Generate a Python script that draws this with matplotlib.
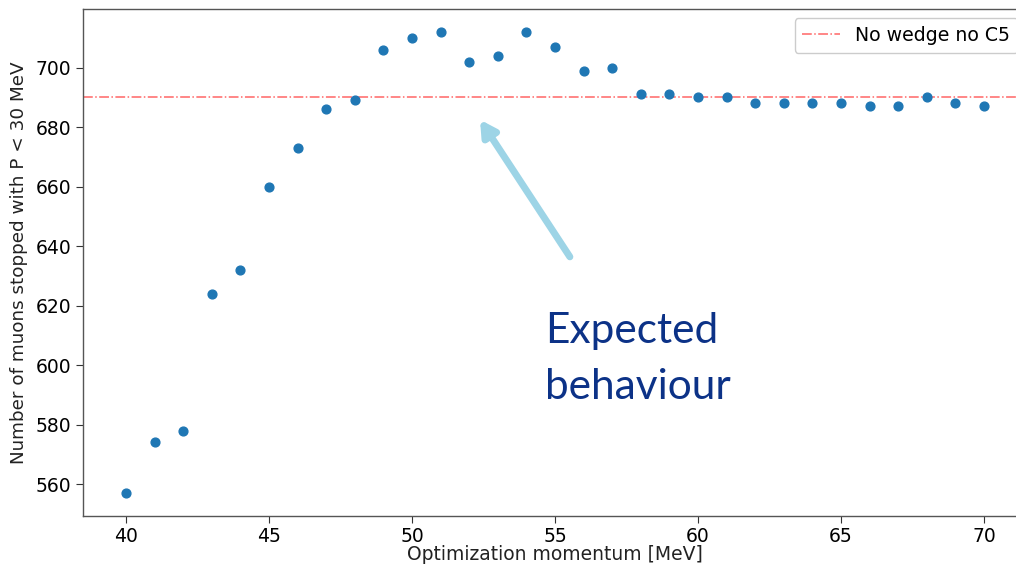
import matplotlib
matplotlib.use("Agg")
import matplotlib.pyplot as plt
from matplotlib import patheffects as pe

# Optimization momentum scan [MeV] and stopped-muon counts
momentum = [40, 41, 42, 43, 44, 45, 46, 47, 48, 49, 50, 51, 52, 53, 54, 55,
            56, 57, 58, 59, 60, 61, 62, 63, 64, 65, 66, 67, 68, 69, 70]
stopped = [557, 574, 578, 624, 632, 660, 673, 686, 689, 706, 710, 712, 702, 704, 712, 707,
           699, 700, 691, 691, 690, 690, 688, 688, 688, 688, 687, 687, 690, 688, 687]
reference_level = 690
reference_label = "No wedge no C5"
x_ticks = [40, 45, 50, 55, 60, 65, 70]
y_ticks = [560, 580, 600, 620, 640, 660, 680, 700]

W, H = 1016, 565
fig = plt.figure(figsize=(W / 100, H / 100), dpi=100)
# axes extend slightly past the right edge of the canvas
ax = fig.add_axes([83 / W, (H - 516) / H, (1027 - 83) / W, (516 - 9) / H])

ax.scatter(momentum, stopped, s=40, color="#1f77b4", zorder=3)
ax.axhline(reference_level, color="red", alpha=0.6, linestyle="-.", lw=1.1,
           label=reference_label)

ax.set_xlim(38.5, 71.5)
ax.set_ylim(549.25, 719.75)
ax.set_xticks(x_ticks)
ax.set_yticks(y_ticks)
ax.tick_params(labelsize=13.5, length=5, color="#333333")
ax.tick_params(axis="x", pad=3)
for s in ax.spines.values():
    s.set_color("#555555")
    s.set_linewidth(1.0)

ax.set_xlabel("Optimization momentum [MeV]", fontsize=13.5, labelpad=-1, color="#222222")
ax.set_ylabel("Number of muons stopped with P < 30 MeV", fontsize=13.2, labelpad=5,
              color="#222222")

leg = ax.legend(loc="upper right", fontsize=13.6, framealpha=1, borderaxespad=0.5)
leg.get_frame().set_edgecolor("#cccccc")

# annotation arrow and note
ax.annotate("", xy=(52.38, 682.5), xytext=(55.52, 636.4),
            arrowprops=dict(arrowstyle="-|>,head_length=0.9,head_width=0.5",
                            color="#9dd4e6", lw=5, shrinkA=0, shrinkB=0,
                            path_effects=[pe.SimplePatchShadow(offset=(1.5, -1.5),
                                                               alpha=0.25),
                                          pe.Normal()]),
            zorder=4)
ax.text(54.65, 618.0, "Expected\nbehaviour", fontsize=30.5, color="#0c3287",
        family="Lato", va="top", ha="left", linespacing=1.6)

fig.savefig("out.png", dpi=100)
